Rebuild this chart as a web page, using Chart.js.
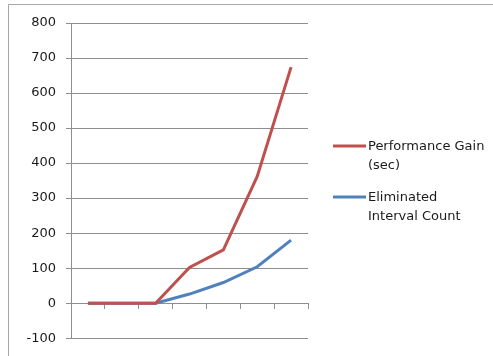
<!DOCTYPE html>
<html>
<head>
<meta charset="utf-8">
<script src="https://cdn.jsdelivr.net/npm/chart.js@4.4.1/dist/chart.umd.min.js"></script>
<style>
  html, body { margin: 0; padding: 0; background: #fff; }
  #wrap { position: relative; width: 493px; height: 356px; }
</style>
</head>
<body>
<div id="wrap"><canvas id="c" width="493" height="356"></canvas></div>
<script>
// Run index for each measurement step
const categories = ['1', '2', '3', '4', '5', '6', '7'];
const performanceGain = [0, 0, 0, 102, 152, 362, 674];
const eliminatedIntervals = [0, 0, 0, 26, 59, 104, 180];
const seriesNames = ['Performance Gain (sec)', 'Eliminated Interval Count'];
const legendLines = [['Performance Gain', '(sec)'], ['Eliminated', 'Interval Count']];
const yTicks = { min: -100, max: 800, step: 100 };

const FONT = 'DejaVu Sans';
const GRID = '#8e8e8e';

// Frame lines and the wrapped legend to the right of the plot
const framePlugin = {
  id: 'frame',
  beforeDraw(chart) {
    const ctx = chart.ctx;
    ctx.save();
    ctx.fillStyle = '#fff';
    ctx.fillRect(0, 0, chart.width, chart.height);
    ctx.strokeStyle = '#a6a6a6';
    ctx.lineWidth = 1;
    ctx.beginPath();
    ctx.moveTo(8.5, chart.height);
    ctx.lineTo(8.5, 4.5);
    ctx.lineTo(chart.width, 4.5);
    ctx.stroke();
    ctx.restore();
  },
  afterDraw(chart) {
    const ctx = chart.ctx;
    const area = chart.chartArea;
    const x0 = area.right + 25;
    const lineLen = 33;
    const lineH = 19;
    const firstY = 146;
    const entryGap = 51;
    ctx.save();
    ctx.font = '13px "' + FONT + '"';
    ctx.textBaseline = 'middle';
    ctx.textAlign = 'left';
    chart.data.datasets.forEach((ds, i) => {
      const y = firstY + i * entryGap;
      ctx.strokeStyle = ds.borderColor;
      ctx.lineWidth = 3;
      ctx.beginPath();
      ctx.moveTo(x0, y);
      ctx.lineTo(x0 + lineLen, y);
      ctx.stroke();
      ctx.fillStyle = '#1a1a1a';
      legendLines[i].forEach((t, j) => {
        ctx.fillText(t, x0 + lineLen + 2, y + 1 + j * lineH);
      });
    });
    ctx.restore();
  }
};

new Chart(document.getElementById('c'), {
  type: 'line',
  data: {
    labels: categories,
    datasets: [
      {
        label: seriesNames[0],
        data: performanceGain,
        borderColor: '#c0504d',
        backgroundColor: '#c0504d',
        borderWidth: 3,
        pointRadius: 0,
        tension: 0,
        fill: false
      },
      {
        label: seriesNames[1],
        data: eliminatedIntervals,
        borderColor: '#4f81bd',
        backgroundColor: '#4f81bd',
        borderWidth: 3,
        pointRadius: 0,
        tension: 0,
        fill: false
      }
    ]
  },
  options: {
    responsive: false,
    animation: false,
    devicePixelRatio: 1,
    layout: { padding: { top: 23, right: 185, bottom: 16, left: 0 } },
    plugins: {
      legend: { display: false },
      tooltip: { enabled: false },
      title: { display: false }
    },
    scales: {
      x: {
        type: 'category',
        position: { y: 0 },
        offset: true,
        ticks: { display: false },
        grid: {
          offset: true,
          drawOnChartArea: false,
          drawTicks: true,
          tickLength: 5,
          color: GRID
        },
        border: { display: true, color: GRID, width: 1 }
      },
      y: {
        min: yTicks.min,
        max: yTicks.max,
        ticks: {
          stepSize: yTicks.step,
          color: '#1a1a1a',
          font: { family: FONT, size: 13 },
          padding: 10
        },
        grid: {
          color: GRID,
          drawTicks: true,
          tickLength: 5
        },
        border: { display: true, color: GRID, width: 1 },
        afterFit(scale) { scale.width = 71; }
      }
    }
  },
  plugins: [framePlugin]
});
</script>
</body>
</html>
